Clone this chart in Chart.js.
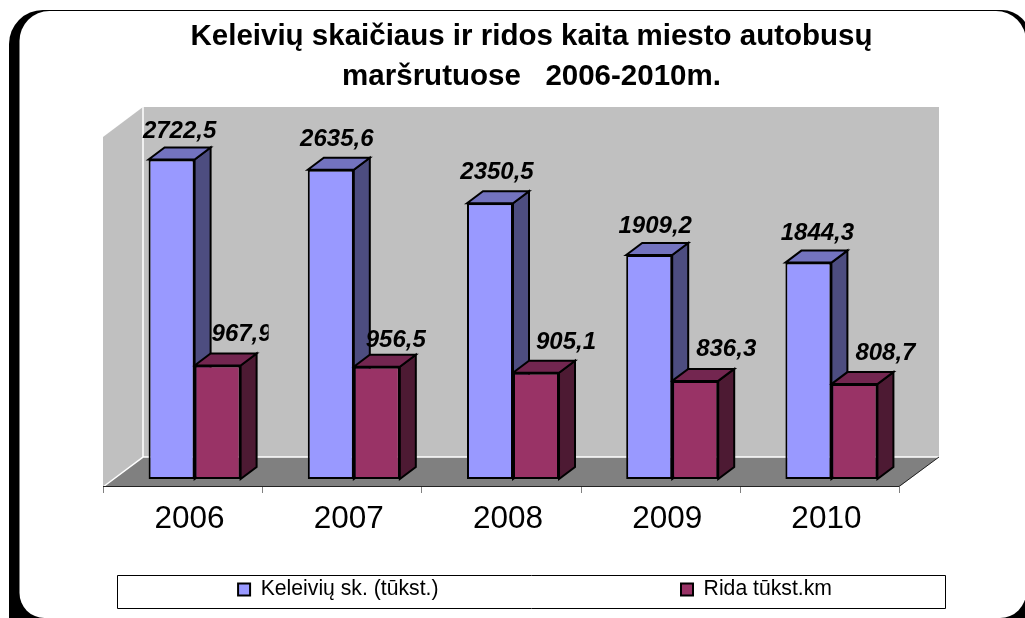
<!DOCTYPE html>
<html><head><meta charset="utf-8">
<style>html,body{margin:0;padding:0;background:#fff;overflow:hidden}#w{position:relative;width:1025px;height:618px}</style>
<script src="https://cdn.jsdelivr.net/npm/chart.js@4"></script>
</head><body><div id="w"><canvas id="c" width="1025" height="618"></canvas></div>
<script>
const categories = ['2006','2007','2008','2009','2010'];
const passengers = [2722.5,2635.6,2350.5,1909.2,1844.3];
const mileage = [967.9,956.5,905.1,836.3,808.7];
const seriesNames = ['Keleivių sk. (tūkst.)','Rida tūkst.km'];
const titleLines = ['Keleivių skaičiaus ir ridos kaita miesto autobusų','maršrutuose   2006-2010m.'];

// Label placement relative to each bar's top centre, as in the source picture
const labelNudgeA = [[8,-28],[6,-30],[7,-31],[6,-29],[9,-29]];
const labelNudgeB = [[24,-31],[19,-26],[30,-30],[31,-32],[31,-31]];

const faces = {front:['#9999FF','#993366'],side:['#4D4D80','#4D1A33'],top:['#7373BF','#732650']};
const DX=16, DY=12;          // bar depth
const PX=12, PY=8;           // bar plane offset from front of the floor
const WX=40, WY=30;          // total depth of the box

function poly(ctx,pts,fill,stroke,lw){
  ctx.beginPath();pts.forEach((p,i)=>i?ctx.lineTo(p[0],p[1]):ctx.moveTo(p[0],p[1]));ctx.closePath();
  if(fill){ctx.fillStyle=fill;ctx.fill();}
  if(stroke){ctx.strokeStyle=stroke;ctx.lineWidth=lw;ctx.lineJoin='miter';ctx.stroke();}
}
const scene = {
  id:'scene',
  afterLayout(chart){chart.legend.left+=3.5;chart.legend.right+=3.5;},
  beforeDraw(chart){
    const ctx=chart.ctx;
    ctx.save();
    ctx.fillStyle='#fff';ctx.fillRect(0,0,1025,618);
    ctx.fillStyle='#000';ctx.beginPath();ctx.roundRect(9,10,1021,640,[34,28,0,0]);ctx.fill();
    ctx.fillStyle='#fff';ctx.beginPath();ctx.roundRect(19.5,11,1006.5,607,[30,30,26,25]);ctx.fill();
    ctx.beginPath();ctx.rect(117.5,575.5,828,33);ctx.strokeStyle='#000';ctx.lineWidth=1;ctx.stroke();
    const y=chart.scales.y,x=chart.scales.x;
    const fl=x.left-PX, fr=x.right-PX, fb=y.bottom+PY, ft=y.top+2+PY;
    // walls and floor
    poly(ctx,[[fl+WX,ft-WY],[fr+WX,ft-WY],[fr+WX,fb-WY],[fl+WX,fb-WY]],'#C0C0C0');
    poly(ctx,[[fl,ft],[fl+WX,ft-WY],[fl+WX,fb-WY],[fl,fb]],'#C0C0C0');
    poly(ctx,[[fl,fb],[fl+WX,fb-WY],[fr+WX,fb-WY],[fr,fb]],'#808080');
    ctx.strokeStyle='#fff';ctx.lineWidth=1.5;
    ctx.beginPath();ctx.moveTo(fl+WX,ft-WY);ctx.lineTo(fl+WX,fb-WY);ctx.lineTo(fl,fb);
    ctx.moveTo(fl+WX,fb-WY);ctx.lineTo(fr+WX,fb-WY);ctx.stroke();
    ctx.strokeStyle='#222';ctx.lineWidth=1;
    ctx.beginPath();ctx.moveTo(fl,fb-.5);ctx.lineTo(fr,fb-.5);ctx.lineTo(fr+WX,fb-WY);ctx.stroke();
    ctx.strokeStyle='#808080';
    const step=(fr-fl)/categories.length;
    ctx.beginPath();
    categories.concat(['']).forEach((_,i)=>{const tx=Math.round(fl+step*i)+.5;ctx.moveTo(tx,fb);ctx.lineTo(tx,fb+6);});
    ctx.stroke();
    ctx.restore();
  },
  beforeDatasetsDraw(chart){
    const ctx=chart.ctx;ctx.save();
    categories.forEach((_,i)=>{
      [0,1].forEach(d=>{
        const b=chart.getDatasetMeta(d).data[i];
        const l=b.x-b.width/2,r=b.x+b.width/2,t=b.y,bt=b.base;
        poly(ctx,[[r,t],[r+DX,t-DY],[r+DX,bt-DY],[r,bt]],faces.side[d],'#000',2);
        poly(ctx,[[l,t],[l+DX,t-DY],[r+DX,t-DY],[r,t]],faces.top[d],'#000',2);
      });
    });
    ctx.restore();
  },
  afterDatasetsDraw(chart){
    const ctx=chart.ctx;ctx.save();
    ctx.font='italic bold 24px "Liberation Sans"';ctx.textAlign='center';ctx.textBaseline='middle';ctx.fillStyle='#000';
    [passengers,mileage].forEach((vals,d)=>{
      const nudge=d?labelNudgeB:labelNudgeA;
      vals.forEach((v,i)=>{
        const b=chart.getDatasetMeta(d).data[i];
        ctx.save();
        if(d===1&&i===0){ctx.beginPath();ctx.rect(b.x-40,b.y-60,b.width/2+40+28,70);ctx.clip();}
        ctx.fillText(v.toFixed(1).replace('.',','),b.x+nudge[i][0],b.y+nudge[i][1]);
        ctx.restore();
      });
    });
    ctx.restore();
  }
};
new Chart(document.getElementById('c'),{
  type:'bar',
  data:{labels:categories,datasets:[
    {label:seriesNames[0],data:passengers,backgroundColor:faces.front[0],borderColor:'#000',borderWidth:2,borderSkipped:false,categoryPercentage:.578,barPercentage:1,xAxisID:'x',yAxisID:'y'},
    {label:seriesNames[1],data:mileage,backgroundColor:faces.front[1],borderColor:'#000',borderWidth:2,borderSkipped:false,categoryPercentage:.578,barPercentage:1,xAxisID:'x',yAxisID:'y'}
  ]},
  plugins:[scene],
  options:{
    responsive:false,animation:false,
    layout:{padding:{left:38,right:0,top:0,bottom:8}},
    plugins:{
      tooltip:{enabled:false},
      title:{display:true,text:titleLines,color:'#000',font:{family:'"Liberation Sans"',size:29.5,weight:'bold',lineHeight:1.356},padding:{top:17,bottom:30}},
      legend:{position:'bottom',labels:{
        color:'#000',font:{family:'"Liberation Sans"',size:21.2,lineHeight:1},boxWidth:12,boxHeight:12,padding:4,
        generateLabels(chart){
          const base=chart.data.datasets.map((d,i)=>({text:d.label,fillStyle:d.backgroundColor,strokeStyle:'#000',lineWidth:2,datasetIndex:i,hidden:false}));
          return [base[0],{text:'\u00A0'.repeat(36),fillStyle:'rgba(0,0,0,0)',strokeStyle:'rgba(0,0,0,0)',lineWidth:0,hidden:false},base[1]];
        }
      }}
    },
    scales:{
      x:{position:'bottom',grid:{display:false},border:{display:false},
        afterFit(s){s.height=95.8;},
        ticks:{color:'#000',font:{family:'"Liberation Sans"',size:31.5},padding:13,labelOffset:-5,maxRotation:0}},
      y:{position:'left',min:0,max:3000,grid:{display:false},border:{display:false},
        afterFit(s){s.width=77;},ticks:{display:false}},
      yR:{position:'right',min:0,max:1,grid:{display:false},border:{display:false},
        afterFit(s){s.width=114;},ticks:{display:false}}
    }
  }
});
</script></body></html>
